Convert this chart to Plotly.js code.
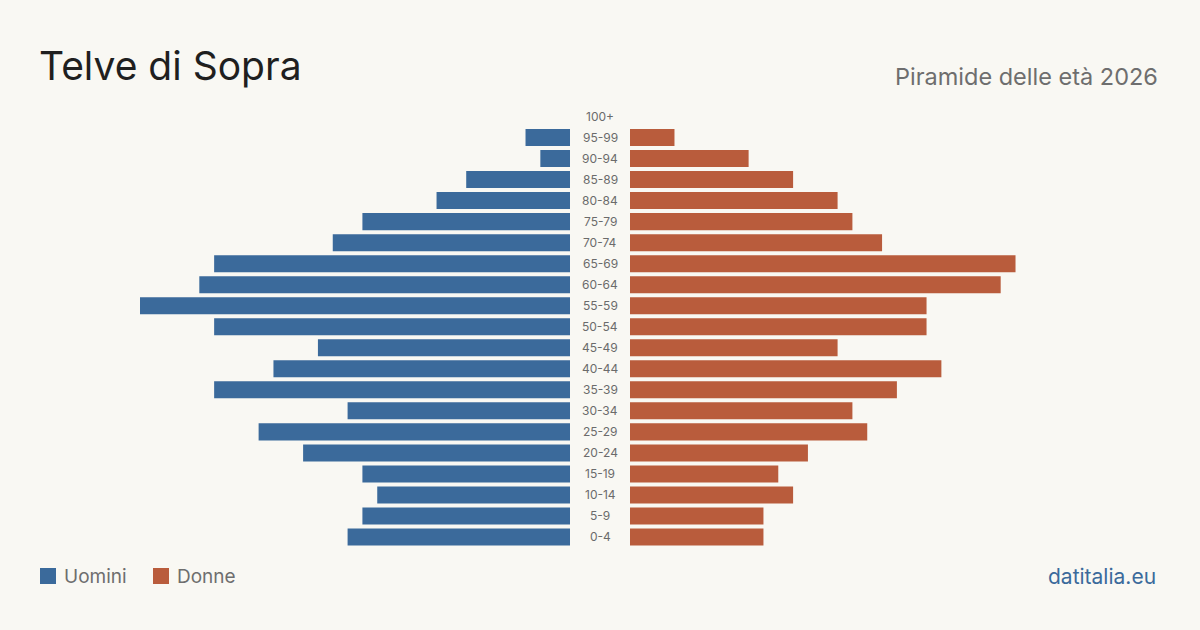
<!DOCTYPE html>
<html>
<head>
<meta charset="utf-8">
<script src="https://cdn.plot.ly/plotly-3.0.1.min.js"></script>
<style>
html,body{margin:0;padding:0;background:#f9f8f3;}
#chart{width:1200px;height:630px;}
</style>
</head>
<body>
<div id="chart"></div>
<script>
const ageGroups = ["0-4","5-9","10-14","15-19","20-24","25-29","30-34","35-39","40-44","45-49","50-54","55-59","60-64","65-69","70-74","75-79","80-84","85-89","90-94","95-99","100+"];
const men   = [15,14,13,14,18,21,15,24,20,17,24,29,25,24,16,14,9,7,2,3,0];
const women = [9,9,11,10,12,16,15,18,21,14,20,20,25,26,17,15,14,11,8,3,0];
const seriesNames = ["Uomini","Donne"];
const colors = ["#3b6a9b","#b95c3c"];
const maxVal = Math.max(...men, ...women);

const font = "Inter, 'Noto Sans', sans-serif";

const traces = [
  {type:"bar", orientation:"h", y:ageGroups, x:men, xaxis:"x", yaxis:"y",
   marker:{color:colors[0]}, name:seriesNames[0], hoverinfo:"x+y"},
  {type:"bar", orientation:"h", y:ageGroups, x:women, xaxis:"x2", yaxis:"y2",
   marker:{color:colors[1]}, name:seriesNames[1], hoverinfo:"x+y"}
];

const annotations = ageGroups.map(g => ({
  xref:"paper", yref:"y", x:0.5, y:g, text:g, showarrow:false,
  xanchor:"center", yanchor:"middle",
  font:{family:font, size:12, color:"#6b6b6b"}
}));

// Titles & footer
annotations.push(
  {xref:"paper", yref:"paper", x:37/1200, y:1-66/630, text:"Telve di Sopra", showarrow:false,
   xanchor:"left", yanchor:"middle", font:{family:font, size:39, color:"#1f1f1f"}},
  {xref:"paper", yref:"paper", x:1160/1200, y:1-76/630, text:"Piramide delle età 2026", showarrow:false,
   xanchor:"right", yanchor:"middle", font:{family:font, size:23.5, color:"#6e6e6e"}},
  {xref:"paper", yref:"paper", x:62/1200, y:1-576/630, text:seriesNames[0], showarrow:false,
   xanchor:"left", yanchor:"middle", font:{family:font, size:19, color:"#6e6e6e"}},
  {xref:"paper", yref:"paper", x:175/1200, y:1-576/630, text:seriesNames[1], showarrow:false,
   xanchor:"left", yanchor:"middle", font:{family:font, size:19, color:"#6e6e6e"}},
  {xref:"paper", yref:"paper", x:1158/1200, y:1-576/630, text:"datitalia.eu", showarrow:false,
   xanchor:"right", yanchor:"middle", font:{family:font, size:21, color:"#3b6a9b"}}
);

const shapes = [
  {type:"rect", xref:"paper", yref:"paper", x0:40/1200, x1:56/1200, y0:1-584/630, y1:1-568/630,
   fillcolor:colors[0], line:{width:0}},
  {type:"rect", xref:"paper", yref:"paper", x0:153/1200, x1:169/1200, y0:1-584/630, y1:1-568/630,
   fillcolor:colors[1], line:{width:0}}
];

const yTop = 1 - 106/630, yBot = 1 - 547.5/630;

const layout = {
  width:1200, height:630,
  margin:{l:0, r:0, t:0, b:0},
  paper_bgcolor:"#f9f8f3", plot_bgcolor:"#f9f8f3",
  showlegend:false,
  bargap:0.19,
  xaxis:{domain:[140/1200, 570/1200], range:[maxVal, 0], showgrid:false, zeroline:false,
         showticklabels:false, ticks:"", fixedrange:true},
  xaxis2:{domain:[630/1200, 1060/1200], range:[0, maxVal], showgrid:false, zeroline:false,
          showticklabels:false, ticks:"", fixedrange:true},
  yaxis:{domain:[yBot, yTop], categoryorder:"array", categoryarray:ageGroups,
         showticklabels:false, showgrid:false, zeroline:false, ticks:"", anchor:"x"},
  yaxis2:{domain:[yBot, yTop], categoryorder:"array", categoryarray:ageGroups, matches:"y",
          showticklabels:false, showgrid:false, zeroline:false, ticks:"", anchor:"x2"},
  annotations: annotations,
  shapes: shapes
};

Plotly.newPlot("chart", traces, layout, {displayModeBar:false, staticPlot:true});
</script>
</body>
</html>
